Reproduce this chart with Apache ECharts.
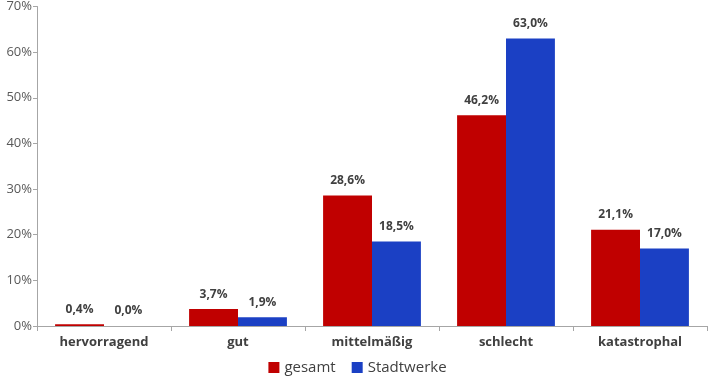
<!DOCTYPE html>
<html><head><meta charset="utf-8">
<script src="https://cdn.jsdelivr.net/npm/echarts@6/dist/echarts.min.js"></script>
<style>html,body{margin:0;padding:0;background:#fff}#c{width:715px;height:385px}</style>
</head><body><div id="c"></div>
<script>
const categories = ['hervorragend', 'gut', 'mittelmäßig', 'schlecht', 'katastrophal'];
const gesamt = [0.4, 3.7, 28.6, 46.2, 21.1];
const stadtwerke = [0.0, 1.9, 18.5, 63.0, 17.0];
const yTicks = [0, 10, 20, 30, 40, 50, 60, 70];

const fmt = v => v.toFixed(1).replace('.', ',') + '%';
const font = '"Open Sans", "Noto Sans", sans-serif';
const labelStyle = {
  show: true, position: 'top', distance: 9,
  formatter: p => fmt(p.value),
  color: '#404040', fontWeight: 'bold', fontSize: 12, fontFamily: font
};
const chart = echarts.init(document.getElementById('c'));
chart.setOption({
  animation: false,
  grid: { left: 37, right: 8, top: 6, bottom: 59, containLabel: false },
  legend: {
    bottom: 5, left: 'center', itemWidth: 11, itemHeight: 11, itemGap: 16,
    icon: 'rect',
    textStyle: { color: '#404040', fontSize: 15, fontFamily: font }
  },
  xAxis: {
    type: 'category', data: categories,
    axisLine: { lineStyle: { color: '#a6a6a6' } },
    axisTick: { show: true, length: 5, lineStyle: { color: '#a6a6a6' } },
    axisLabel: { color: '#404040', fontWeight: 'bold', fontSize: 13, fontFamily: font, margin: 10 }
  },
  yAxis: {
    type: 'value', min: 0, max: 70, interval: 10,
    axisLine: { show: true, lineStyle: { color: '#a6a6a6' } },
    axisTick: { show: true, length: 4, lineStyle: { color: '#a6a6a6' } },
    splitLine: { show: false },
    axisLabel: { color: '#595959', fontSize: 13, fontFamily: font, margin: 5,
      formatter: v => yTicks.includes(v) ? v + '%' : '' }
  },
  series: [
    { name: 'gesamt', type: 'bar', data: gesamt, barGap: '0%', barCategoryGap: '27%',
      itemStyle: { color: '#C00000' }, label: labelStyle },
    { name: 'Stadtwerke', type: 'bar', data: stadtwerke,
      itemStyle: { color: '#1B40C4' }, label: labelStyle }
  ]
});
</script></body></html>
